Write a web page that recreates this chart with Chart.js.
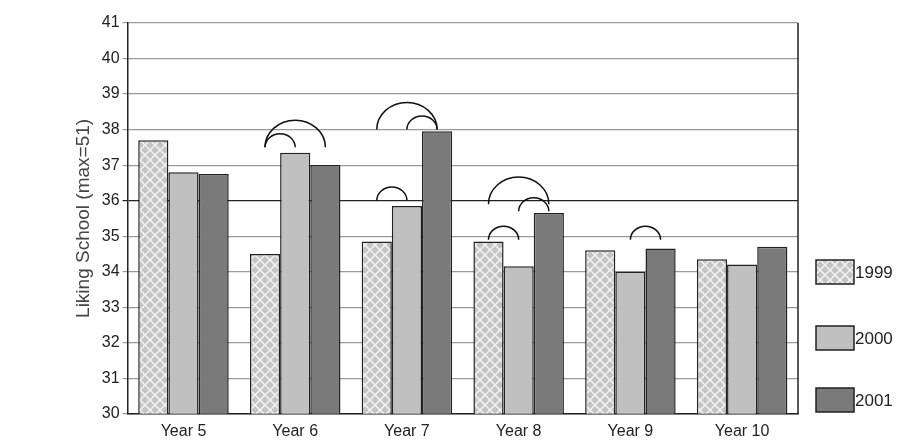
<!DOCTYPE html><html><head><script src="https://cdn.jsdelivr.net/npm/chart.js@4"></script>
<style>body{margin:0;background:#fff}#w{width:904px;height:441px}</style></head><body><div id="w"><canvas id="c"></canvas></div>
<script>
const categories=['Year 5','Year 6','Year 7','Year 8','Year 9','Year 10'];
const seriesNames=['1999','2000','2001'];
const v1999=[37.7,34.5,34.85,34.85,34.6,34.35];
const v2000=[36.8,37.35,35.85,34.15,34.0,34.2];
const v2001=[36.75,37.0,37.95,35.65,34.65,34.7];
// [category, fromSeries, toSeries, baseline value]
const arcs=[[1,0,1,37.5],[1,0,2,37.5],[2,0,2,38.0],[2,1,2,38.0],[2,0,1,36.0],[3,0,2,35.9],[3,1,2,35.7],[3,0,1,34.9],[4,1,2,34.9]];
function hatch(){const p=document.createElement('canvas');p.width=10;p.height=10;const g=p.getContext('2d');
g.fillStyle='#c4c4c4';g.fillRect(0,0,10,10);g.strokeStyle='#f4f4f4';g.lineWidth=1.5;
g.beginPath();g.moveTo(0,0);g.lineTo(10,10);g.moveTo(10,0);g.lineTo(0,10);g.stroke();
return g.createPattern(p,'repeat');}
const cx=document.getElementById('c').getContext('2d');
const fills=[hatch(),'#c0c0c0','#7a7a7a'];
const extra={id:'extra',afterDatasetsDraw(ch){const c=ch.ctx;c.save();c.strokeStyle='#111';c.lineWidth=1.5;
 const y=ch.scales.y,A=ch.chartArea;
 c.strokeStyle='#222';c.beginPath();c.moveTo(A.right,A.top);c.lineTo(A.right,A.bottom);c.stroke();
 c.strokeStyle='#111';
 arcs.forEach(([i,a,b,v])=>{const xa=ch.getDatasetMeta(a).data[i].x,xb=ch.getDatasetMeta(b).data[i].x;
  const r=(xb-xa)/2,yy=y.getPixelForValue(v);c.beginPath();c.ellipse((xa+xb)/2,yy,r,r*0.9,0,Math.PI,2*Math.PI);c.stroke();});
 const L=A.right+18;c.font='17px "Liberation Sans"';c.textBaseline='middle';
 [272,338,400].forEach((yy,k)=>{c.fillStyle=fills[k];c.fillRect(L,yy-12,38,24);c.strokeStyle='#222';c.lineWidth=1.5;c.strokeRect(L,yy-12,38,24);
  c.fillStyle='#222';c.fillText(seriesNames[k],L+39,yy+1);});
 c.restore();}};
new Chart(cx,{type:'bar',data:{labels:categories,datasets:[v1999,v2000,v2001].map((d,k)=>({label:seriesNames[k],data:d,backgroundColor:fills[k],borderColor:'#222',borderWidth:1.5,categoryPercentage:0.81,barPercentage:1}))},
options:{responsive:true,maintainAspectRatio:false,animation:false,layout:{padding:{right:106,top:23,left:68,bottom:0}},
plugins:{legend:{display:false},tooltip:{enabled:false}},
scales:{x:{grid:{display:false},border:{color:'#222',width:1.5},ticks:{color:'#222',padding:0,font:{size:16,family:'Liberation Sans'}}},
y:{min:30,max:41,ticks:{stepSize:1,color:'#222',font:{size:16,family:'Liberation Sans'}},border:{color:'#222',width:1.5},
grid:{color:c=>c.tick.value===36?'#222':'#999',lineWidth:1.2,drawTicks:true,tickLength:5},
title:{display:true,text:'Liking School (max=51)',color:'#444',font:{size:19,family:'Liberation Sans'}}}}},plugins:[extra]});
</script></body></html>
